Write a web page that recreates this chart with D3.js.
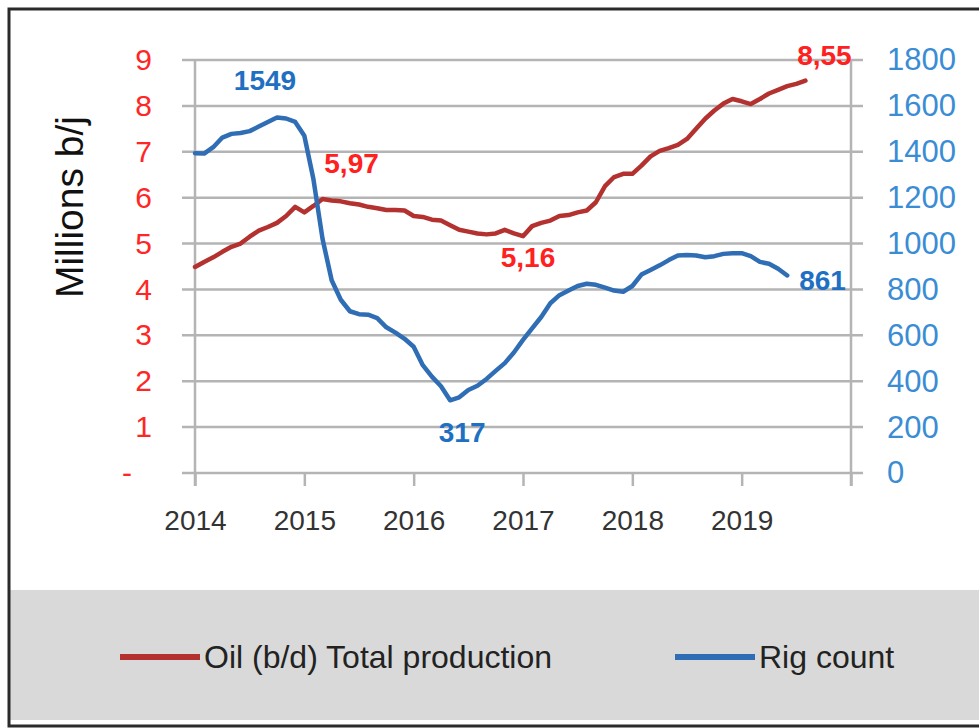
<!DOCTYPE html>
<meta charset="utf-8">
<style>
  body { margin: 0; background: #fff; }
  text { font-family: "Liberation Sans", Arial, sans-serif; }
</style>
<body>
<svg id="chart" width="979" height="728"></svg>
<script src="https://d3js.org/d3.v7.min.js"></script>
<script>

  // monthly values, Jan 2014 onwards
  const startYear = 2014;
  const oilProduction = [
    4.49, 4.6, 4.7, 4.82, 4.93, 5.0, 5.15, 5.28, 5.36, 5.45, 5.6, 5.8,
    5.68, 5.82, 5.97, 5.94, 5.92, 5.88, 5.85, 5.8, 5.77, 5.73, 5.73, 5.72,
    5.6, 5.58, 5.52, 5.5, 5.4, 5.3, 5.26, 5.22, 5.2, 5.22, 5.3, 5.22,
    5.16, 5.38, 5.45, 5.5, 5.6, 5.62, 5.68, 5.72, 5.9, 6.25, 6.45, 6.52,
    6.52, 6.7, 6.9, 7.02, 7.08, 7.15, 7.28, 7.5, 7.72, 7.9, 8.05, 8.15,
    8.1, 8.04, 8.15, 8.27, 8.35, 8.43, 8.48, 8.55
  ];
  const rigCount = [
    1394, 1392, 1420, 1462, 1478, 1482, 1490, 1510, 1530, 1549, 1545, 1530,
    1470, 1280, 1020, 840, 755, 705, 692, 690, 675, 635, 612, 585,
    550, 470, 420, 378, 317, 330, 362, 380, 410, 445, 479, 525,
    580, 630, 680, 740, 775, 795, 815, 825, 820, 808, 795, 790,
    815, 865, 885, 905, 928, 948, 950, 948, 940, 945, 955, 958,
    958, 945, 920, 912, 890, 861
  ];
  const yearTicks = [2014, 2015, 2016, 2017, 2018, 2019, 2020];
  const leftTicks = [0, 1, 2, 3, 4, 5, 6, 7, 8, 9];
  const rightTicks = [0, 200, 400, 600, 800, 1000, 1200, 1400, 1600, 1800];
  const seriesNames = ["Oil (b/d) Total production", "Rig count"];
  // data labels: series, month index, text
  const dataLabels = [
    { series: "rig", i: 9, text: "1549" },
    { series: "oil", i: 14, text: "5,97" },
    { series: "oil", i: 36, text: "5,16" },
    { series: "rig", i: 28, text: "317" },
    { series: "rig", i: 65, text: "861" },
    { series: "oil", i: 67, text: "8,55" }
  ];

  const oilColor = "#b3312e", rigColor = "#2f6db5";
  const svg = d3.select("#chart");

  // frame + legend band
  svg.append("rect").attr("x", 9).attr("y", 590).attr("width", 975).attr("height", 130).attr("fill", "#d9d9d9");
  svg.append("rect").attr("x", 9).attr("y", 9).attr("width", 980).attr("height", 717)
    .attr("fill", "none").attr("stroke", "#2a2a2a").attr("stroke-width", 3);

  const x = d3.scaleLinear().domain([2014, 2020]).range([195, 851]);
  const yL = d3.scaleLinear().domain([0, 9]).range([473, 60]);
  const yR = d3.scaleLinear().domain([0, 1800]).range([473, 60]);

  // gridlines
  svg.append("g").selectAll("line").data(leftTicks).join("line")
    .attr("x1", 182).attr("x2", 863)
    .attr("y1", d => yL(d)).attr("y2", d => yL(d))
    .attr("stroke", "#b4b4b4").attr("stroke-width", 2.5);

  // vertical axis lines
  svg.append("line").attr("x1", x(2014)).attr("x2", x(2014)).attr("y1", yL(9)).attr("y2", 486)
    .attr("stroke", "#b4b4b4").attr("stroke-width", 2.5);
  svg.append("line").attr("x1", x(2020)).attr("x2", x(2020)).attr("y1", yL(9)).attr("y2", 486)
    .attr("stroke", "#b4b4b4").attr("stroke-width", 2.5);

  // x axis
  const xAxis = svg.append("g").attr("transform", "translate(0,473)")
    .call(d3.axisBottom(x).tickValues(yearTicks).tickSize(13).tickPadding(24)
      .tickFormat(d => d === 2020 ? "" : d3.format("d")(d)));
  xAxis.select(".domain").remove();
  xAxis.selectAll(".tick line").attr("stroke", "#b4b4b4").attr("stroke-width", 2.5);
  xAxis.selectAll("text").attr("font-size", 28).attr("fill", "#333").attr("font-family", null);

  // left axis
  const lAxis = svg.append("g").attr("transform", "translate(195,0)")
    .call(d3.axisLeft(yL).tickValues(leftTicks).tickSize(0).tickPadding(43)
      .tickFormat(d => d === 0 ? "-" : d));
  lAxis.select(".domain").remove();
  lAxis.selectAll("text").attr("font-size", 30).attr("fill", "#ff2626").attr("font-family", null);
  lAxis.selectAll(".tick").filter(d => d === 0).select("text").attr("x", -63);

  // right axis
  const rAxis = svg.append("g").attr("transform", "translate(851,0)")
    .call(d3.axisRight(yR).tickValues(rightTicks).tickSize(0).tickPadding(36)
      .tickFormat(d3.format("d")));
  rAxis.select(".domain").remove();
  rAxis.selectAll("text").attr("font-size", 31).attr("fill", "#3a8dd4").attr("font-family", null);

  // y title
  svg.append("text").attr("transform", "translate(83,207) rotate(-90)")
    .attr("text-anchor", "middle").attr("font-size", 39).attr("fill", "#111")
    .text("Millions b/j");

  const monthX = i => x(startYear + i / 12);

  const oilLine = d3.line().x((d, i) => monthX(i)).y(d => yL(d));
  const rigLine = d3.line().x((d, i) => monthX(i)).y(d => yR(d));

  svg.append("path").datum(oilProduction).attr("d", oilLine)
    .attr("fill", "none").attr("stroke", oilColor).attr("stroke-width", 4.5)
    .attr("stroke-linejoin", "round").attr("stroke-linecap", "round");
  svg.append("path").datum(rigCount).attr("d", rigLine)
    .attr("fill", "none").attr("stroke", rigColor).attr("stroke-width", 4.5)
    .attr("stroke-linejoin", "round").attr("stroke-linecap", "round");

  // data labels, offsets relative to their point
  const labelOffsets = {
    "1549": [-12, -28, "middle"],
    "5,97": [29, -26, "middle"],
    "5,16": [5, 31, "middle"],
    "317": [12, 42, "middle"],
    "861": [12, 15, "start"],
    "8,55": [19, -16, "middle"]
  };
  svg.append("g").selectAll("text").data(dataLabels).join("text")
    .attr("x", d => monthX(d.i) + labelOffsets[d.text][0])
    .attr("y", d => (d.series === "oil" ? yL(oilProduction[d.i]) : yR(rigCount[d.i])) + labelOffsets[d.text][1])
    .attr("text-anchor", d => labelOffsets[d.text][2])
    .attr("font-size", 28).attr("font-weight", "bold")
    .attr("fill", d => d.series === "oil" ? "#ff2020" : "#1f6fc2")
    .text(d => d.text);

  // legend
  const legendItems = [
    { name: seriesNames[0], color: oilColor, x0: 120 },
    { name: seriesNames[1], color: rigColor, x0: 675 }
  ];
  const lg = svg.append("g").selectAll("g").data(legendItems).join("g")
    .attr("transform", d => `translate(${d.x0},657)`);
  lg.append("line").attr("x1", 0).attr("x2", 80).attr("stroke", d => d.color)
    .attr("stroke-width", 6);
  lg.append("text").attr("x", 84).attr("y", 11).attr("font-size", 32).attr("fill", "#222")
    .text(d => d.name);

</script>
</body>
